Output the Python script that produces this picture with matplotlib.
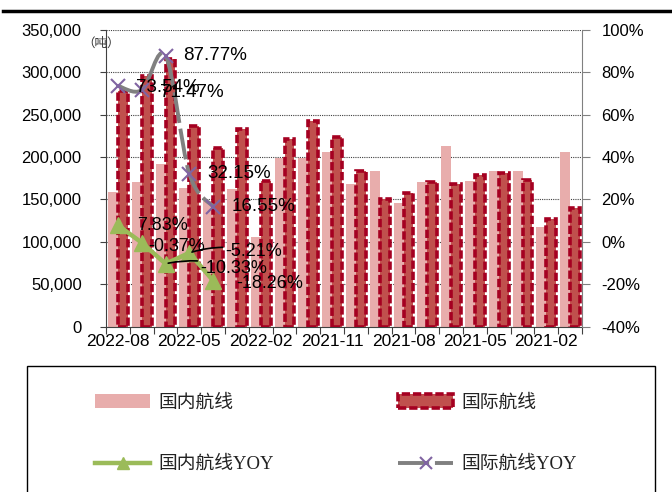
import matplotlib
matplotlib.use("Agg")
import matplotlib.pyplot as plt
import numpy as np
from matplotlib.lines import Line2D
from matplotlib.patches import Patch, Rectangle, PathPatch
from matplotlib.path import Path
from matplotlib.ticker import FuncFormatter

plt.rcParams['font.family'] = ['Liberation Sans', 'Noto Sans CJK SC', 'DejaVu Sans']

# --- data (tons), newest month first as in the source chart ---
months = ['2022-08', '2022-07', '2022-06', '2022-05', '2022-04', '2022-03', '2022-02',
          '2022-01', '2021-12', '2021-11', '2021-10', '2021-09', '2021-08', '2021-07',
          '2021-06', '2021-05', '2021-04', '2021-03', '2021-02', '2021-01']
domestic = [159000, 170000, 192000, 163000, 148000, 162000, 106000, 199000, 199000, 206000,
            168000, 184000, 146000, 170000, 213000, 172000, 184000, 184000, 117000, 206000]
international = [278000, 295000, 316000, 236000, 210000, 233000, 172000, 221000, 242000, 223000,
                 183000, 151000, 158000, 170000, 168000, 179000, 181000, 173000, 127000, 140000]
dom_yoy = [7.83, -0.37, -10.33, -5.21, -18.26]
intl_yoy = [73.54, 71.47, 87.77, 32.15, 16.55]

LIGHT = '#E8ADAC'
DARK = '#C0504D'
EDGE = '#A50021'
GREEN = '#9BBB59'
GRAY = '#808080'
PURPLE = '#8064A2'
BAR_DASH = (0, (2.3, 0.8))


def smooth_path(xs, ys):
    # Catmull-Rom style bezier through the points (like a spreadsheet "smoothed line")
    pts = np.column_stack([xs, ys]).astype(float)
    verts = [pts[0]]
    codes = [Path.MOVETO]
    n = len(pts)
    for i in range(n - 1):
        p0 = pts[i - 1] if i > 0 else pts[i]
        p1, p2 = pts[i], pts[i + 1]
        p3 = pts[i + 2] if i + 2 < n else pts[i + 1]
        verts += [p1 + (p2 - p0) / 6, p2 - (p3 - p1) / 6, p2]
        codes += [Path.CURVE4] * 3
    return Path(verts, codes)


fig = plt.figure(figsize=(6.72, 4.92), dpi=100)
ax = fig.add_axes([106 / 672, 1 - 326.7 / 492, 476 / 672, 297 / 492])

x = np.arange(len(months))
w = 0.42
ax.bar(x - w / 2, domestic, width=w, color=LIGHT, zorder=2)
ax.bar(x + w / 2, international, width=w, color=DARK, edgecolor=EDGE,
       linewidth=2.6, linestyle=BAR_DASH, zorder=3)

ax.set_xlim(-0.5, len(months) - 0.5)
ax.set_ylim(0, 350000)
ax.set_yticks(np.arange(0, 350001, 50000))
ax.yaxis.set_major_formatter(FuncFormatter(lambda v, p: f"{int(v):,}"))
ax.yaxis.grid(True, linestyle=(0, (1, 1)), color='#404040', linewidth=0.8, zorder=1)
ax.set_axisbelow(True)

# tick marks on category boundaries, labels every 3 months
ax.set_xticks(np.arange(-0.5, len(months), 1.0))
ax.set_xticklabels([])
ax.set_xticks(x[::3], months[::3], minor=True)
ax.tick_params(axis='x', which='major', length=5, color='#404040', direction='out')
ax.tick_params(axis='x', which='minor', length=0, pad=5, labelsize=12.5)
ax.tick_params(axis='y', length=4.5, pad=13, labelsize=12, color='#404040')

ax.spines['top'].set_visible(False)
ax.spines['right'].set_visible(False)
ax.spines['left'].set_color('#404040')
ax.spines['bottom'].set_color('#404040')

ax.text(-0.05, 0.955, '（吨）', transform=ax.transAxes, fontsize=9,
        family=['Noto Sans CJK SC'], color='#333333', ha='left', va='center')

# --- YOY lines on the right axis ---
ax2 = ax.twinx()
ax2.set_ylim(-40, 100)
ax2.set_yticks(np.arange(-40, 101, 20))
ax2.yaxis.set_major_formatter(FuncFormatter(lambda v, p: f"{int(v)}%"))
ax2.tick_params(axis='y', length=6, pad=8, labelsize=12, color='#808080')
ax2.spines['right'].set_color('#808080')
for s in ['top', 'left', 'bottom']:
    ax2.spines[s].set_visible(False)

xi = x[:len(intl_yoy)]
ax2.add_patch(PathPatch(smooth_path(xi, intl_yoy), facecolor='none', edgecolor=GRAY,
                        linewidth=2.8, linestyle=(0, (8, 1.5)), zorder=4))
ax2.plot(xi, intl_yoy, linestyle='none', marker='x', markersize=10,
         markeredgewidth=1.5, color=PURPLE, zorder=5)

xd = x[:len(dom_yoy)]
ax2.plot(xd, dom_yoy, color=GREEN, linewidth=3.2, marker='^', markersize=11, zorder=5)

intl_offsets = [(13, -1), (13, -1.5), (13, 0), (13, 0), (13, 0)]
for xv, yv, off in zip(xi, intl_yoy, intl_offsets):
    ax2.annotate(f"{yv:.2f}%", (xv, yv), xytext=off, textcoords='offset points',
                 ha='left', va='center', fontsize=13.5, color='black', zorder=6)

# domestic labels: (dx, dy) offsets in points, leader line where the label sits away
dom_offsets = [(13.5, 0), (4.5, -3), (25, -3.5), (26, 1), (17, -2)]
dom_leader = [False, False, True, True, False]
for xv, yv, (dx, dy), lead in zip(xd, dom_yoy, dom_offsets, dom_leader):
    props = dict(arrowstyle='-', color='black', lw=1.2, shrinkA=0, shrinkB=2,
                 connectionstyle='arc3,rad=0.15') if lead else None
    ax2.annotate(f"{yv:.2f}%", (xv, yv), xytext=(dx, dy), textcoords='offset points',
                 ha='left', va='center', fontsize=13, color='black', zorder=6,
                 arrowprops=props)

# --- title rule and legend box ---
fig.add_artist(Line2D([3 / 672, 1], [1 - 11 / 492] * 2, transform=fig.transFigure,
                      color='black', linewidth=2.5))
fig.add_artist(Rectangle((27 / 672, -0.05), (655 - 27) / 672, 1 - 366 / 492 + 0.05,
                         transform=fig.transFigure, fill=False, edgecolor='black',
                         linewidth=1))

h1 = Patch(facecolor=LIGHT, edgecolor='none', label='国内航线')
h2 = Patch(facecolor=DARK, edgecolor=EDGE, linewidth=2.6, linestyle=BAR_DASH,
           label='国际航线')
h3 = Line2D([], [], color=GREEN, linewidth=3.2, marker='^', markersize=9, label='国内航线YOY')
h4 = Line2D([], [], color=GRAY, linewidth=2.8, linestyle=(0, (8, 1.5)), marker='x',
            markersize=8, markeredgewidth=1.5, markeredgecolor=PURPLE, label='国际航线YOY')
fig.legend(handles=[h1, h3, h2, h4], ncol=2, loc='upper left',
           bbox_to_anchor=(95 / 672, 1 - 394 / 492), frameon=False,
           prop={'family': ['Liberation Serif', 'Noto Sans CJK SC'], 'size': 13.5},
           handlelength=2.95, handleheight=0.7, handletextpad=0.45, labelspacing=2.35,
           columnspacing=6.6, borderpad=0, borderaxespad=0, labelcolor='#222222')

fig.savefig('out.png', dpi=100)
